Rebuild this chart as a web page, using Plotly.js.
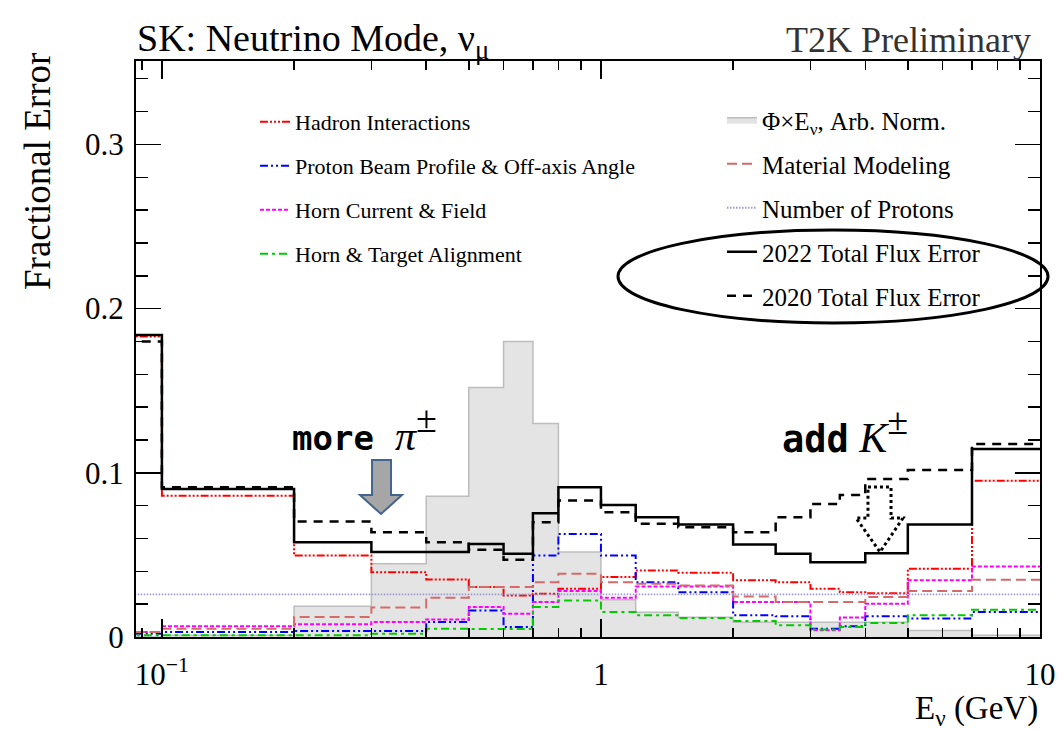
<!DOCTYPE html>
<html><head><meta charset="utf-8">
<script src="https://cdn.plot.ly/plotly-3.0.1.min.js"></script>
<style>html,body{margin:0;padding:0;background:#fff}#chart{width:1064px;height:730px}</style>
</head><body><div id="chart"></div>
<script>
// Bin edges (GeV) and per-bin fractional errors
const binEdges = [0.05, 0.1, 0.2, 0.3, 0.4, 0.5, 0.6, 0.7, 0.8, 1.0, 1.2, 1.5, 2.0, 2.5, 3.0, 3.5, 4.0, 5.0, 7.0, 10.0];
const fluxShape   = [0.000, 0.001, 0.0188, 0.0446, 0.0857, 0.152, 0.180, 0.130, 0.0517, 0.0227, 0.015, 0.012, 0.009, 0.009, 0.009, 0.009, 0.009, 0.004, 0.001];
const hadronInt   = [0.183, 0.0861, 0.0496, 0.0395, 0.0350, 0.0304, 0.0253, 0.0264, 0.0294, 0.0365, 0.0405, 0.0392, 0.0345, 0.0334, 0.0294, 0.0273, 0.0267, 0.0415, 0.0952];
const beamProfile = [0.002, 0.003, 0.0036, 0.0036, 0.0091, 0.0162, 0.0061, 0.0496, 0.0628, 0.0496, 0.0334, 0.0273, 0.0132, 0.0126, 0.0051, 0.0065, 0.0126, 0.0112, 0.0152];
const hornCurrent = [0.003, 0.0065, 0.0077, 0.0091, 0.0106, 0.0182, 0.0142, 0.0213, 0.0280, 0.0239, 0.0308, 0.0308, 0.0213, 0.0213, 0.0041, 0.0118, 0.0203, 0.0345, 0.0430];
const alignment   = [0.001, 0.001, 0.001, 0.002, 0.0051, 0.0049, 0.0049, 0.0182, 0.0223, 0.0152, 0.0132, 0.0116, 0.0097, 0.0071, 0.0045, 0.0061, 0.0085, 0.0132, 0.0166];
const material    = [0.003, 0.005, 0.0122, 0.0179, 0.0239, 0.0304, 0.0304, 0.0334, 0.0385, 0.0334, 0.0324, 0.0314, 0.0247, 0.0213, 0.0213, 0.0213, 0.0243, 0.0280, 0.0349];
const numProtons  = [0.026, 0.026, 0.026, 0.026, 0.026, 0.026, 0.026, 0.026, 0.026, 0.026, 0.026, 0.026, 0.026, 0.026, 0.026, 0.026, 0.026, 0.026, 0.026];
const total2022   = [0.184, 0.0902, 0.0577, 0.0517, 0.0517, 0.0567, 0.0507, 0.0754, 0.0912, 0.0804, 0.0729, 0.0685, 0.0563, 0.0507, 0.0456, 0.0456, 0.0510, 0.0685, 0.1145];
const total2020   = [0.180, 0.0912, 0.0703, 0.0638, 0.0577, 0.0531, 0.0470, 0.0699, 0.0831, 0.0760, 0.0689, 0.0668, 0.0638, 0.0729, 0.0810, 0.0865, 0.0962, 0.1017, 0.1175];
const xTickVals = [0.1, 1, 10];
const xTickText = ['10<sup>\u22121</sup>', '1', '10'];
const yTickVals = [0, 0.1, 0.2, 0.3];
const yTickText = ['0', '0.1', '0.2', '0.3'];

function stepY(v){ return v.concat([v[v.length-1]]); }
const SERIF = 'Liberation Serif, Times New Roman, serif';
const MONO = "<span style=\"font-family:'DejaVu Sans Mono';font-weight:bold\">";

function hist(name, vals, color, width, dash, legend, extra){
  return Object.assign({
    type:'scatter', mode:'lines', name:name, x:binEdges, y:stepY(vals),
    line:{shape:'hv', color:color, width:width, dash:dash},
    legend:legend, legendgroup:name, hoverinfo:'skip'
  }, extra||{});
}

const traces = [
  hist('\u03A6\u00D7E<sub>\u03BD</sub>, Arb. Norm.', fluxShape, '#bdbdbd', 1.5, 'solid', 'legend2', {fill:'tozeroy', fillcolor:'#e4e4e4'}),
  hist('Hadron Interactions', hadronInt, '#ff0000', 2, '8px,2px,2px,2px,2px,2px,2px,2px', 'legend'),
  hist('Proton Beam Profile & Off-axis Angle', beamProfile, '#0000ff', 2, '8px,3px,2px,3px,2px,3px', 'legend'),
  hist('Horn Current & Field', hornCurrent, '#ff00ff', 2, '4px,2px', 'legend'),
  hist('Horn & Target Alignment', alignment, '#00cc00', 2, '8px,4px,3px,4px', 'legend'),
  hist('Material Modeling', material, '#d46a6a', 2, '10px,5px', 'legend2'),
  hist('Number of Protons', numProtons, '#9a9ad0', 1.8, '1.5px,1.5px', 'legend2'),
  hist('2022 Total Flux Error', total2022, '#000000', 2.5, 'solid', 'legend2'),
  hist('2020 Total Flux Error', total2020, '#000000', 2.5, '9px,7px', 'legend2')
];

// pixel -> paper helpers for decorations
const L=136, R=1040, T=61, B=637;
const px = v => (v-L)/(R-L);
const py = v => (B-v)/(B-T);
function path(pts){ return 'M' + pts.map(p => px(p[0]).toFixed(4)+','+py(p[1]).toFixed(4)).join(' L') + ' Z'; }

const layout = {
  width:1064, height:730,
  margin:{l:L, r:1064-R, t:T, b:730-B},
  paper_bgcolor:'#fff', plot_bgcolor:'#fff',
  font:{family:SERIF, color:'#000', size:22},
  showlegend:true,
  title:{text:'SK: Neutrino Mode, \u03BD<sub>\u03BC</sub>', x:137/1064, xanchor:'left', xref:'container',
         y:1-38/730, yanchor:'middle', yref:'container', font:{family:SERIF, size:38, color:'#000'}},
  xaxis:{type:'log', range:[Math.log10(0.0873), 1], showgrid:false, zeroline:false,
    showline:true, linecolor:'#000', linewidth:2, mirror:'ticks',
    ticks:'inside', ticklen:18, tickwidth:1.5, tickcolor:'#000',
    tickmode:'array', tickvals:xTickVals, ticktext:xTickText,
    tickfont:{family:SERIF, size:31}, ticklabelstandoff:9,
    minor:{ticks:'inside', ticklen:9, tickwidth:1.5, tickcolor:'#000', tickmode:'array',
      tickvals:[0.09,0.2,0.3,0.4,0.5,0.6,0.7,0.8,0.9,2,3,4,5,6,7,8,9]}
  },
  yaxis:{range:[0, 0.3508], showgrid:false, zeroline:false,
    showline:true, linecolor:'#000', linewidth:2, mirror:'ticks',
    ticks:'inside', ticklen:25, tickwidth:1.5, tickcolor:'#000',
    tickmode:'array', tickvals:yTickVals, ticktext:yTickText,
    tickfont:{family:SERIF, size:31}, ticklabelstandoff:4,
    minor:{ticks:'inside', ticklen:12, tickwidth:1.5, tickcolor:'#000', dtick:0.02}
  },
  legend:{x:px(255), xanchor:'left', y:py(101), yanchor:'top', bgcolor:'rgba(0,0,0,0)',
    font:{family:SERIF, size:22}, tracegroupgap:12.4, itemwidth:30, traceorder:'grouped'},
  legend2:{x:px(722), xanchor:'left', y:py(97), yanchor:'top', bgcolor:'rgba(0,0,0,0)',
    font:{family:SERIF, size:25}, tracegroupgap:8.5, itemwidth:30, traceorder:'grouped'},
  annotations:[
    {xref:'paper', yref:'paper', x:px(1033), y:py(40), xanchor:'right', yanchor:'middle',
     text:'T2K Preliminary', showarrow:false, font:{family:SERIF, size:36, color:'#333'}},
    {xref:'paper', yref:'paper', x:1, y:py(710), xanchor:'right', yanchor:'middle',
     text:'E<sub>\u03BD</sub> (GeV)', showarrow:false, font:{family:SERIF, size:33, color:'#000'}},
    {xref:'paper', yref:'paper', x:px(37), y:py(172), xanchor:'center', yanchor:'middle', textangle:-90,
     text:'Fractional Error', showarrow:false, font:{family:SERIF, size:37, color:'#000'}},
    {xref:'paper', yref:'paper', x:px(290), y:py(428), xanchor:'left', yanchor:'middle', showarrow:false,
     text:MONO+'more</span><span style="font-size:42px">\u2002<i>\u03C0</i><sup><span style="font-size:38px">\u00B1</span></sup></span>',
     font:{family:SERIF, size:34, color:'#000'}},
    {xref:'paper', yref:'paper', x:px(780), y:py(430), xanchor:'left', yanchor:'middle', showarrow:false,
     text:MONO+'<span style="font-size:37px">add</span></span><span style="font-size:42px"> <i>K</i><sup><span style="font-size:38px">\u00B1</span></sup></span>',
     font:{family:SERIF, size:34, color:'#000'}}
  ],
  shapes:[
    {type:'circle', xref:'paper', yref:'paper', x0:px(618), x1:px(1048), y0:py(323), y1:py(230),
     line:{color:'#000', width:3}},
    {type:'path', xref:'paper', yref:'paper',
     path:path([[372,460],[391,460],[391,495],[402,495],[381,514],[360,495],[372,495]]),
     fillcolor:'#a6a6a6', line:{color:'#44648f', width:2}},
    {type:'path', xref:'paper', yref:'paper',
     path:path([[868,487],[891,487],[891,518],[903,518],[880,552],[856,518],[868,518]]),
     fillcolor:'rgba(0,0,0,0)', line:{color:'#000', width:3, dash:'dot'}}
  ]
};

Plotly.newPlot('chart', traces, layout, {staticPlot:true, displayModeBar:false});
</script></body></html>
